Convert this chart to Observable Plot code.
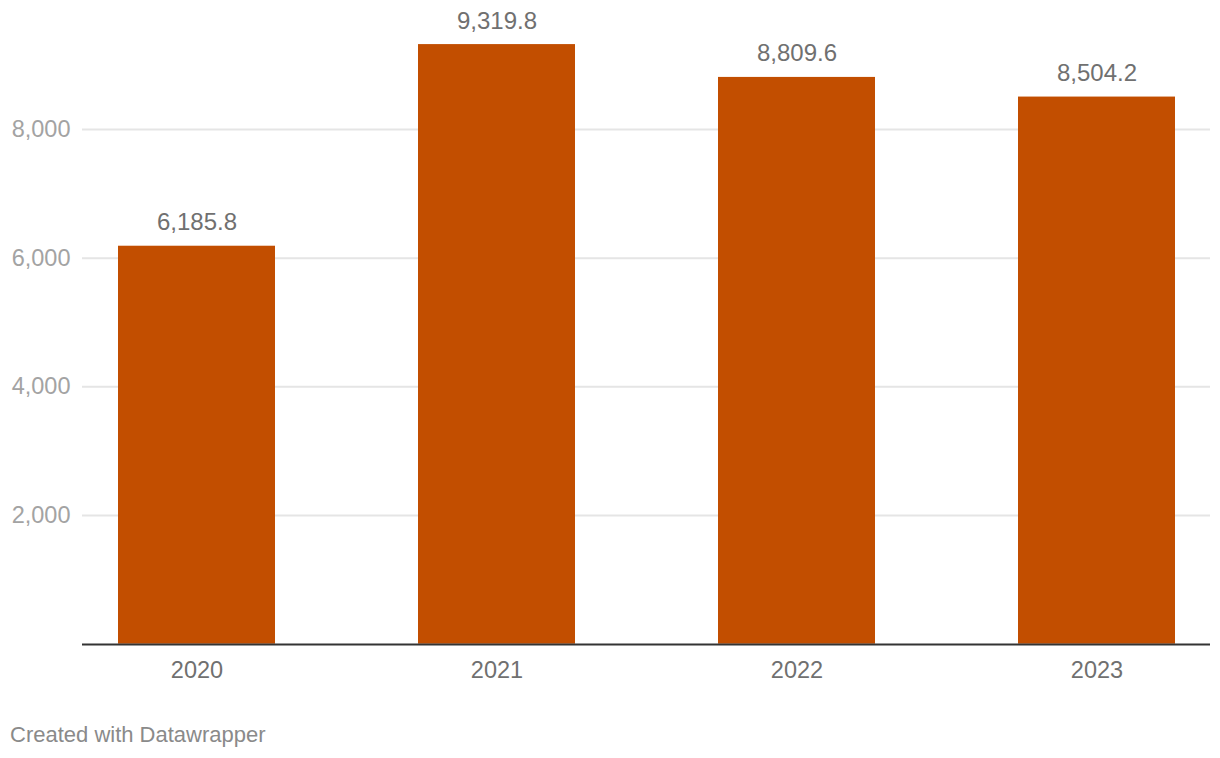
<!DOCTYPE html>
<html>
<head>
<meta charset="utf-8">
<script src="https://cdn.jsdelivr.net/npm/d3@7"></script>
<script src="https://cdn.jsdelivr.net/npm/@observablehq/plot@0.6"></script>
<style>
  html, body { margin: 0; padding: 0; background: #fff; }
  #wrap { position: relative; width: 1220px; height: 758px; font-family: "Liberation Sans", Arial, Helvetica, sans-serif; }
  #footer { position: absolute; left: 10px; top: 724px; font-size: 22px; line-height: 22px; color: #8a8a8a; }
</style>
</head>
<body>
<div id="wrap">
  <div id="chart"></div>
  <div id="footer">Created with Datawrapper</div>
</div>
<script>
const years = ["2020", "2021", "2022", "2023"];
const values = [6185.8, 9319.8, 8809.6, 8504.2];
const yTicks = [2000, 4000, 6000, 8000];

const data = years.map((y, i) => ({year: y, value: values[i]}));
const fmtTick = d3.format(",");
const fmtVal = d3.format(",.1f");

const chart = Plot.plot({
  width: 1220,
  height: 705,
  marginLeft: 82,
  marginRight: 10,
  marginTop: 0,
  marginBottom: 0,
  style: {fontFamily: '"Liberation Sans", Arial, Helvetica, sans-serif', background: "#fff"},
  x: {domain: years, range: [45.25, 1247.25], paddingInner: 0.478, paddingOuter: 0.239, align: 0.5, axis: null},
  y: {domain: [0, 8000], range: [643.7, 129], axis: null},
  marks: [
    Plot.ruleY(yTicks, {stroke: "#e5e5e5", strokeWidth: 2}),
    Plot.text(yTicks, {frameAnchor: "left", y: d => d, text: d => fmtTick(d), textAnchor: "end", dx: -12, fill: "#a3a3a3", fontSize: 23.5, lineAnchor: "middle"}),
    Plot.barY(data, {x: "year", y: "value", fill: "#c24e00"}),
    Plot.ruleY([0], {stroke: "#333333", strokeWidth: 2, dy: 0.3}),
    Plot.text(data, {x: "year", y: "value", text: d => fmtVal(d.value), dy: -16, lineAnchor: "bottom", fill: "#707070", fontSize: 24}),
    Plot.text(data, {x: "year", y: () => 0, text: "year", dy: 34, lineAnchor: "bottom", fill: "#707070", fontSize: 23.5})
  ]
});
document.getElementById("chart").appendChild(chart);
</script>
</body>
</html>
